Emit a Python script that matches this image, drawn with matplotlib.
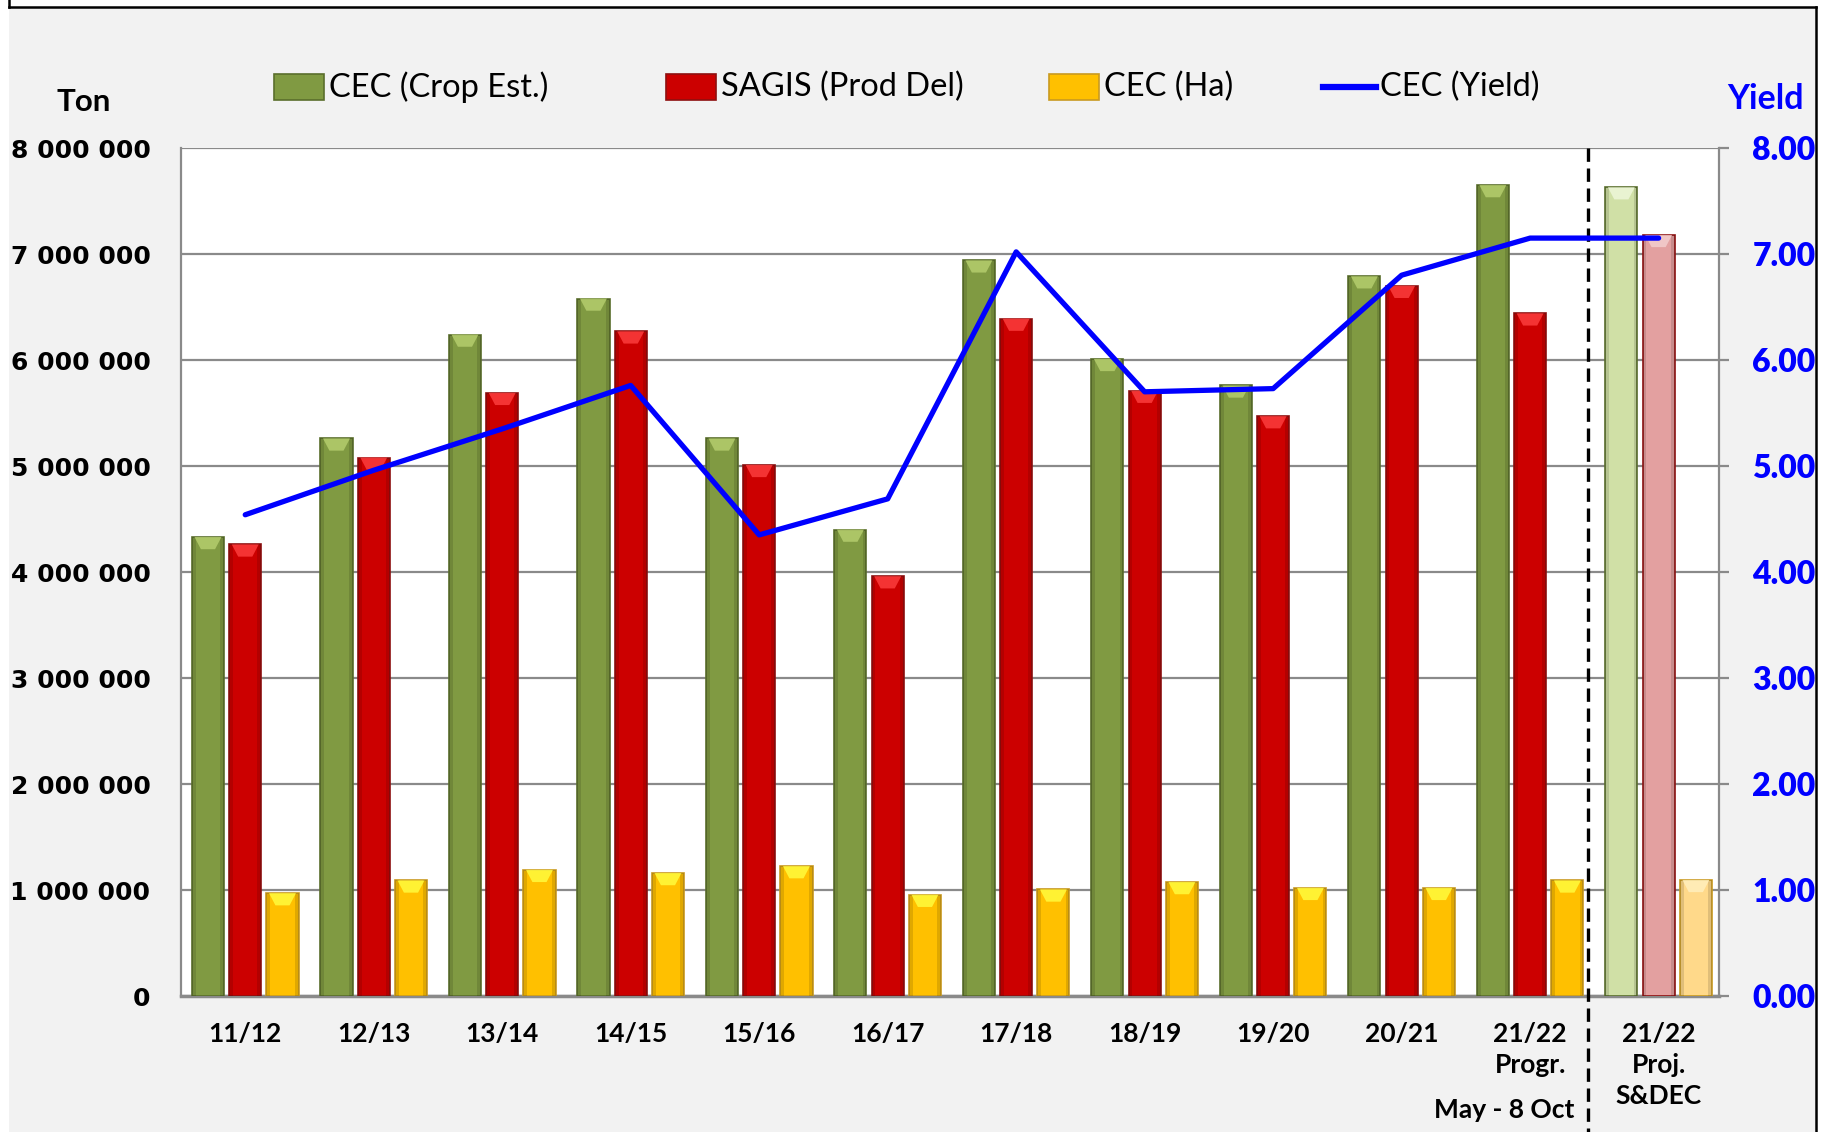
import matplotlib
matplotlib.use("Agg")
import matplotlib.pyplot as plt
import numpy as np
from matplotlib.patches import Rectangle, Polygon
from matplotlib.lines import Line2D
from matplotlib.ticker import FuncFormatter, MultipleLocator
from matplotlib.transforms import Bbox, blended_transform_factory

categories = ["11/12", "12/13", "13/14", "14/15", "15/16", "16/17", "17/18",
              "18/19", "19/20", "20/21", "21/22\nProgr.", "21/22\nProj.\nS&DEC"]
crop_est = [4330000, 5260000, 6240000, 6580000, 5260000, 4400000, 6940000,
            6010000, 5760000, 6790000, 7650000, 7630000]
sagis_del = [4260000, 5080000, 5690000, 6270000, 5010000, 3960000, 6390000,
             5710000, 5470000, 6700000, 6440000, 7180000]
hectares = [970000, 1090000, 1190000, 1160000, 1225000, 955000, 1005000,
            1075000, 1020000, 1020000, 1090000, 1095000]
yield_vals = [4.54, 4.96, 5.35, 5.76, 4.35, 4.69, 7.02, 5.70, 5.73, 6.80, 7.15, 7.15]
series_names = ["CEC (Crop Est.)", "SAGIS (Prod Del)", "CEC (Ha)", "CEC (Yield)"]

GREEN, RED, YELLOW, BLUE = "#809a42", "#cc0000", "#ffc000", "#0000ff"
GREEN_L, RED_L, YELLOW_L = "#d0e0a6", "#e3a0a0", "#ffd98a"
GREEN_E, RED_E, YELLOW_E = "#5a6e2c", "#8e1010", "#c99a20"
GREEN_C, RED_C, YELLOW_C = "#b8d070", "#ff4040", "#ffff40"
GREEN_LC, RED_LC, YELLOW_LC = "#f0f8dc", "#f4d0d0", "#fff0c0"

W, H = 1831, 1132
fig = plt.figure(figsize=(W / 100, H / 100), dpi=100)
fig.patch.set_facecolor("white")

# gray panel with black frame
fig.add_artist(Rectangle((9 / W, 0), (1816 - 9) / W, 1 - 7 / H, transform=fig.transFigure,
                         facecolor="#f2f2f2", edgecolor="none", zorder=-10))
for xs, ys in [([9, 9], [0, 7]), ([9, 1816], [7, 7]), ([1816, 1816], [7, H])]:
    fig.add_artist(Line2D([xx / W for xx in xs], [1 - y / H for y in ys],
                          transform=fig.transFigure, color="black", lw=1.8, zorder=20))

ax = fig.add_axes([181 / W, 1 - 996 / H, (1719 - 181) / W, (996 - 148) / H])
ax.set_facecolor("white")
x = np.arange(len(categories))
bw = 0.25
off = 0.29
n = len(categories)
ax.set_xlim(-0.5, 11.47)
ax.set_ylim(0, 8000000)

specs = [
    (x - off, crop_est, [GREEN] * (n - 1) + [GREEN_L], GREEN_E, [GREEN_C] * (n - 1) + [GREEN_LC]),
    (x, sagis_del, [RED] * (n - 1) + [RED_L], RED_E, [RED_C] * (n - 1) + [RED_LC]),
    (x + off, hectares, [YELLOW] * (n - 1) + [YELLOW_L], YELLOW_E, [YELLOW_C] * (n - 1) + [YELLOW_LC]),
]
cap_h = 115000  # about 12 px in data units
for xpos, vals, cols, ec, caps in specs:
    bars = ax.bar(xpos, vals, bw, color=cols, edgecolor=ec, linewidth=1.2, zorder=3)
    for b, cc in zip(bars, caps):
        x0, w, h = b.get_x(), b.get_width(), b.get_height()
        ax.add_patch(Rectangle((x0, 0), w * 0.12, h, facecolor="black", alpha=0.12,
                               edgecolor="none", zorder=3.5))
        ax.add_patch(Rectangle((x0 + w * 0.88, 0), w * 0.12, h, facecolor="black", alpha=0.12,
                               edgecolor="none", zorder=3.5))
        ax.add_patch(Polygon([(x0 + w * 0.08, h), (x0 + w * 0.92, h),
                              (x0 + w * 0.72, h - cap_h), (x0 + w * 0.28, h - cap_h)],
                             closed=True, facecolor=cc, edgecolor="none", alpha=0.8, zorder=3.6))

ax.yaxis.set_major_locator(MultipleLocator(1000000))
ax.yaxis.set_major_formatter(FuncFormatter(lambda v, p: f"{v:,.0f}".replace(",", " ")))
ax.grid(axis="y", color="#8a8a8a", lw=1.6, zorder=0)
ax.set_axisbelow(True)
for s in ["top", "right"]:
    ax.spines[s].set_visible(False)
ax.spines["left"].set_color("#8a8a8a")
ax.spines["left"].set_linewidth(1.6)
ax.spines["bottom"].set_color("#8a8a8a")
ax.spines["bottom"].set_linewidth(2.5)
ax.tick_params(axis="y", length=0, pad=22, labelsize=18, labelcolor="black")
for lab in ax.get_yticklabels():
    lab.set_fontweight("bold")
    lab.set_family("DejaVu Sans")
ax.set_xticks(x)
ax.set_xticklabels(categories, fontsize=19, fontweight="bold", family="Lato", linespacing=1.33)
ax.tick_params(axis="x", length=0, pad=19)

ax2 = ax.twinx()
ax2.plot(x, yield_vals, color=BLUE, lw=3.8, solid_capstyle="round", zorder=5)
ax2.set_ylim(0, 8)
ax2.yaxis.set_major_locator(MultipleLocator(1))
ax2.yaxis.set_major_formatter(FuncFormatter(lambda v, p: f"{v:.2f}"))
for s in ["top", "left", "bottom"]:
    ax2.spines[s].set_visible(False)
ax2.spines["right"].set_color("#8a8a8a")
ax2.spines["right"].set_linewidth(1.6)
ax2.tick_params(axis="y", length=7, width=1.6, color="#8a8a8a", pad=17,
                labelsize=23, labelcolor=BLUE)
clipbox = Bbox.from_extents(0, 0, 1815, H)
for lab in ax2.get_yticklabels():
    lab.set_fontweight("heavy")
    lab.set_family("Lato")
    lab.set_clip_box(clipbox)
    lab.set_clip_on(True)

# dashed separator
tr = blended_transform_factory(ax.transData, ax.transAxes)
ax.plot([10.45, 10.45], [1.0, -0.165], transform=tr, color="black", lw=2.4,
        dashes=(4, 2), clip_on=False, zorder=10)

# axis titles
fig.text(84 / W, 1 - 102 / H, "Ton", ha="center", va="center", fontsize=22.5,
         fontweight="bold", family="Lato", color="black")
fig.text(1766 / W, 1 - 99 / H, "Yield", ha="center", va="center", fontsize=24.5,
         fontweight="bold", family="Lato", color=BLUE)
fig.text(1504 / W, 1 - 1110 / H, "May - 8 Oct", ha="center", va="center", fontsize=19,
         fontweight="bold", family="Lato", color="black")

# legend
leg_y = 1 - 87 / H
ph = 25 / H
items = [(274, GREEN, GREEN_E, series_names[0]), (666, RED, RED_E, series_names[1]),
         (1049, YELLOW, YELLOW_E, series_names[2])]
for px, fc, ec, name in items:
    fig.add_artist(Rectangle((px / W, leg_y - ph / 2), 50 / W, ph, transform=fig.transFigure,
                             facecolor=fc, edgecolor=ec, lw=1.2))
    fig.text((px + 55) / W, leg_y, name, ha="left", va="center", fontsize=23.5,
             family="Lato", color="black")
fig.add_artist(Line2D([1323 / W, 1376 / W], [leg_y, leg_y], transform=fig.transFigure,
                      color=BLUE, lw=4.5))
fig.text(1380 / W, leg_y, series_names[3], ha="left", va="center", fontsize=23.5,
         family="Lato", color="black")

fig.savefig("out.png", dpi=100)
